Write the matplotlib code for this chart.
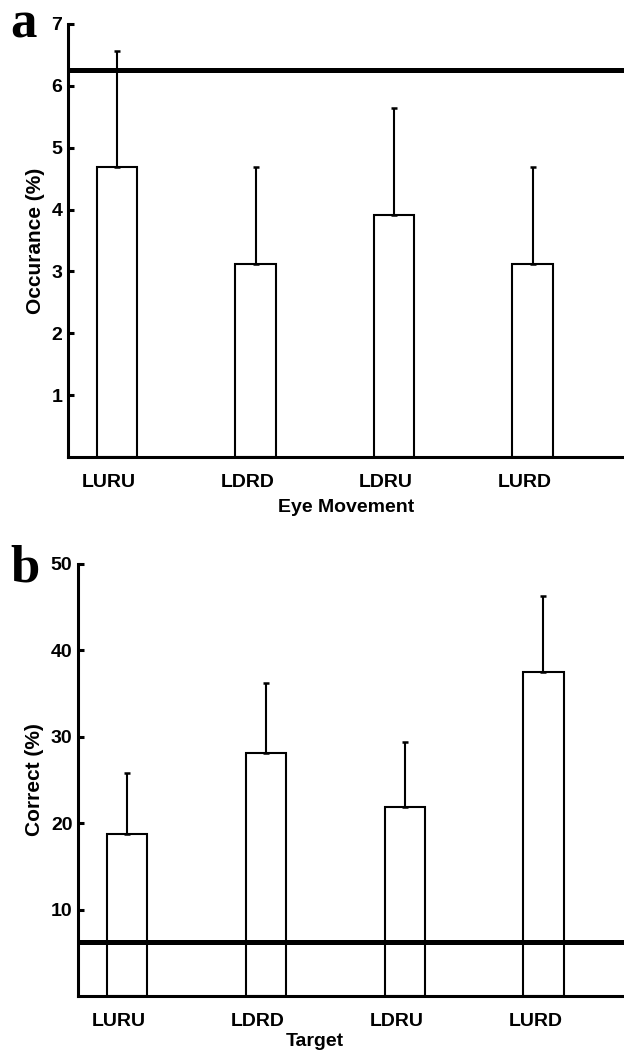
import numpy as np
import matplotlib
matplotlib.use("Agg")
import matplotlib.pyplot as plt

plt.rcParams["font.family"] = ["Liberation Sans", "DejaVu Sans"]
plt.rcParams["font.weight"] = "bold"

categories = ["LURU", "LDRD", "LDRU", "LURD"]

occurance = [4.6875, 3.125, 3.90625, 3.125]
occurance_err = [1.87, 1.56, 1.73, 1.56]
occurance_chance = 6.25

correct = [18.75, 28.125, 21.875, 37.5]
correct_err = [7.1, 8.1, 7.5, 8.8]
correct_chance = 6.25

fig = plt.figure(figsize=(6.24, 10.5), dpi=100)
ax_a = fig.add_axes([0.109, 0.5648, 0.891, 0.4124])
ax_b = fig.add_axes([0.125, 0.0514, 0.875, 0.4115])


def panel(ax, values, errs, chance, yticks, ylim, xlim, ylabel, xlabel):
    x = np.arange(len(values))
    ax.bar(x, values, width=0.29, color="white", edgecolor="black",
           linewidth=1.5, zorder=2)
    lower = np.zeros(len(errs))
    ax.errorbar(x, values, yerr=[lower, errs], fmt="none", ecolor="black",
                elinewidth=1.5, capsize=2.5, capthick=1.8, zorder=3)
    ax.axhline(chance, color="black", linewidth=3.6, zorder=4)
    ax.set_xlim(*xlim)
    ax.set_ylim(*ylim)
    ax.set_yticks(yticks)
    # labels sit a little left of the bars in the original
    ax.set_xticks(x - 0.058)
    ax.set_xticklabels(categories, fontsize=14, fontweight="bold")
    ax.tick_params(axis="x", length=0, pad=12)
    ax.tick_params(axis="y", direction="in", length=4, width=2.2,
                   labelsize=14, pad=4)
    for lab in ax.get_yticklabels():
        lab.set_fontweight("bold")
    for side in ["top", "right"]:
        ax.spines[side].set_visible(False)
    for side in ["left", "bottom"]:
        ax.spines[side].set_linewidth(2.2)
    ax.set_ylabel(ylabel, fontsize=15, fontweight="bold", labelpad=5)
    ax.set_xlabel(xlabel, fontsize=14, fontweight="bold", labelpad=6)


panel(ax_a, occurance, occurance_err, occurance_chance,
      [1, 2, 3, 4, 5, 6, 7], (0, 7), (-0.354, 3.66),
      "Occurance (%)", "Eye Movement")
panel(ax_b, correct, correct_err, correct_chance,
      [10, 20, 30, 40, 50], (0, 50), (-0.353, 3.58),
      "Correct (%)", "Target")
ax_b.xaxis.set_label_coords(0.434, -0.086)

fig.text(10 / 624, 1 - 37 / 1050, "a", fontsize=38, fontweight="bold",
         family=["Liberation Serif", "DejaVu Serif"], va="baseline")
fig.text(10 / 624, 1 - 582 / 1050, "b", fontsize=38, fontweight="bold",
         family=["Liberation Serif", "DejaVu Serif"], va="baseline")

fig.savefig("out.png", dpi=100)
